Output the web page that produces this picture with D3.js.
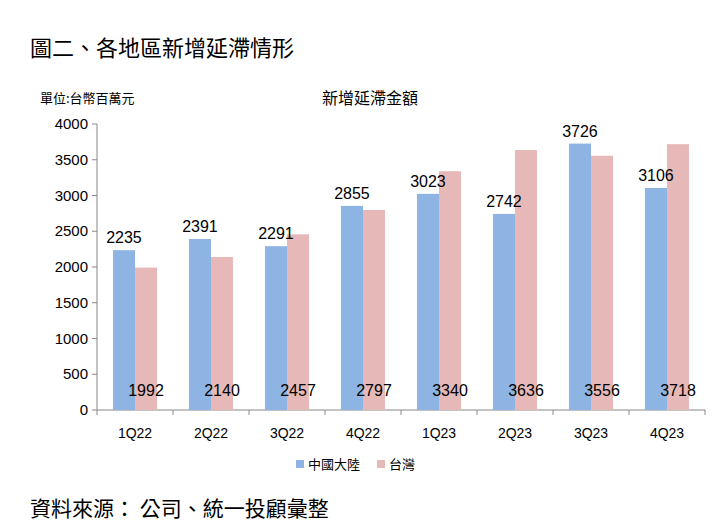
<!DOCTYPE html>
<html>
<head>
<meta charset="UTF-8"/>
<script src="https://d3js.org/d3.v7.min.js"></script>
<style>
body{margin:0;background:#fff;font-family:"Noto Sans CJK TC","Noto Sans",sans-serif;}
</style>
</head>
<body>
<script>
var categories = ["1Q22","2Q22","3Q22","4Q22","1Q23","2Q23","3Q23","4Q23"];
var china = [2235,2391,2291,2855,3023,2742,3726,3106];
var taiwan = [1992,2140,2457,2797,3340,3636,3556,3718];
var yTicks = [0,500,1000,1500,2000,2500,3000,3500,4000];

var w = 720, h = 528;
var svg = d3.select("body").append("svg").attr("width",w).attr("height",h);

var x = d3.scaleBand().domain(categories).range([97,705]).paddingInner(0.42).paddingOuter(0.21);
var y = d3.scaleLinear().domain([0,4000]).range([410,124]);

svg.append("text").attr("x",30).attr("y",56).attr("font-size",22).text("圖二、各地區新增延滯情形");
svg.append("text").attr("x",40).attr("y",103).attr("font-size",13).text("單位:台幣百萬元");
svg.append("text").attr("x",370).attr("y",104).attr("font-size",16).attr("text-anchor","middle").text("新增延滯金額");

// y axis
svg.append("line").attr("x1",97).attr("x2",97).attr("y1",124).attr("y2",410).attr("stroke","#888");
svg.selectAll(".yt").data(yTicks).enter().append("g").each(function(d){
  var g = d3.select(this);
  g.append("line").attr("x1",92).attr("x2",97).attr("y1",y(d)).attr("y2",y(d)).attr("stroke","#888");
  g.append("text").attr("x",88).attr("y",y(d)+5).attr("text-anchor","end").attr("font-size",15)
   .attr("font-family","Liberation Sans, Arial").text(d);
});
// x axis
svg.append("line").attr("x1",97).attr("x2",705).attr("y1",410).attr("y2",410).attr("stroke","#888");
var step = x.step();
categories.forEach(function(c,i){
  var xc = 97 + step*i;
  svg.append("line").attr("x1",xc).attr("x2",xc).attr("y1",410).attr("y2",415).attr("stroke","#888");
  svg.append("text").attr("x",x(c)+x.bandwidth()/2).attr("y",438).attr("text-anchor","middle")
    .attr("font-size",14).attr("font-family","Liberation Sans, Arial").text(c);
});
svg.append("line").attr("x1",705).attr("x2",705).attr("y1",410).attr("y2",415).attr("stroke","#888");

var bw = x.bandwidth()/2;
svg.selectAll(".cn").data(china).enter().append("rect")
  .attr("x",function(d,i){return x(categories[i]);}).attr("y",function(d){return y(d);})
  .attr("width",bw).attr("height",function(d){return 410-y(d);}).attr("fill","#8db4e2");
svg.selectAll(".tw").data(taiwan).enter().append("rect")
  .attr("x",function(d,i){return x(categories[i])+bw;}).attr("y",function(d){return y(d);})
  .attr("width",bw).attr("height",function(d){return 410-y(d);}).attr("fill","#e6b9b8");

svg.selectAll(".cnl").data(china).enter().append("text")
  .attr("x",function(d,i){return x(categories[i])+bw/2;}).attr("y",function(d){return y(d)-7;})
  .attr("text-anchor","middle").attr("font-size",16).attr("font-family","Liberation Sans, Arial").text(function(d){return d;});
svg.selectAll(".twl").data(taiwan).enter().append("text")
  .attr("x",function(d,i){return x(categories[i])+bw+bw/2;}).attr("y",396)
  .attr("text-anchor","middle").attr("font-size",16).attr("font-family","Liberation Sans, Arial").text(function(d){return d;});

// legend
svg.append("rect").attr("x",296).attr("y",460).attr("width",8).attr("height",8).attr("fill","#8db4e2");
svg.append("text").attr("x",308).attr("y",469).attr("font-size",13).text("中國大陸");
svg.append("rect").attr("x",377).attr("y",460).attr("width",8).attr("height",8).attr("fill","#e6b9b8");
svg.append("text").attr("x",389).attr("y",469).attr("font-size",13).text("台灣");

svg.append("text").attr("x",30).attr("y",516).attr("font-size",21).text("資料來源： 公司、統一投顧彙整");
</script>
</body>
</html>
